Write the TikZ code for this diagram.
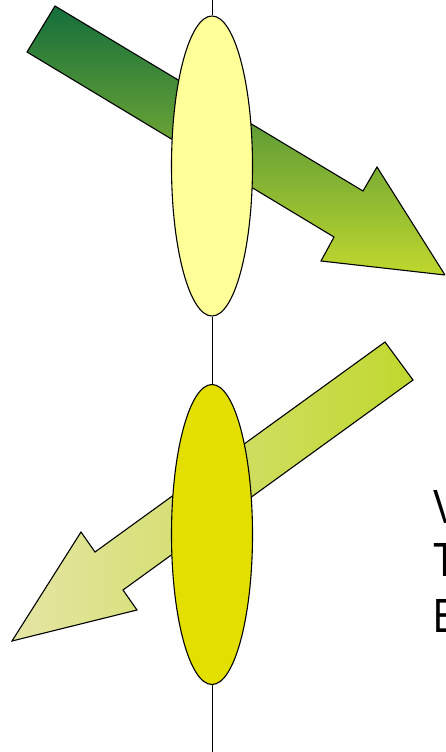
\documentclass[tikz,border=0pt]{standalone}
\usepackage{fontspec}
\setmainfont{Liberation Sans}
\usetikzlibrary{shapes.geometric}
\definecolor{lensA}{HTML}{FFFF99}
\definecolor{lensB}{HTML}{E3DF00}
\definecolor{darkg}{RGB}{20,110,60}
\definecolor{midg}{RGB}{135,176,52}
\definecolor{yg}{RGB}{192,216,46}
\definecolor{paleg}{RGB}{229,229,165}
\tikzset{
  lens/.style={draw=black, line width=1.1pt, ellipse, minimum width=81pt, minimum height=300pt, inner sep=0pt},
  axisline/.style={draw=black, line width=1pt},
  arrowoutline/.style={draw=black, line width=1.1pt, line join=miter},
  lbl/.style={font=\fontsize{48}{52}\selectfont, anchor=base west, inner sep=0pt, xscale=0.8}
}
\begin{document}
\begin{tikzpicture}[x=1pt,y=-1pt]
\useasboundingbox (0,0) rectangle (445,752);
\clip (0,0) rectangle (445,752);
% axis
\coordinate (top) at (212,0);
\coordinate (bot) at (212,752);
% top arrow
\shade[top color=darkg, middle color=midg, bottom color=yg] (55,6) -- (363,191) -- (377,167) -- (445,275) -- (321,261) -- (334,237) -- (27,52) -- cycle;
\draw[arrowoutline] (55,6) -- (363,191) -- (377,167) -- (445,275) -- (321,261) -- (334,237) -- (27,52) -- cycle;
% bottom arrow
\shade[left color=paleg, right color=yg] (385,342) -- (413,380) -- (123,590) -- (137,610) -- (12,641) -- (81,532) -- (95,552) -- cycle;
\draw[arrowoutline] (385,342) -- (413,380) -- (123,590) -- (137,610) -- (12,641) -- (81,532) -- (95,552) -- cycle;
% lenses
\node[lens, fill=lensA] (l1) at (212,166) {};
\node[lens, fill=lensB] (l2) at (212,534.5) {};
\draw[axisline] (top) -- (l1.north);
\draw[axisline] (l1.south) -- (l2.north);
\draw[axisline] (l2.south) -- (bot);
% text (cut off at right edge, as in the reference)
\node[lbl] (t1) at (433,523) {V};
\node[lbl] (t2) at (433,576) {T};
\node[lbl] (t3) at (433,632) {E};
\end{tikzpicture}
\end{document}
